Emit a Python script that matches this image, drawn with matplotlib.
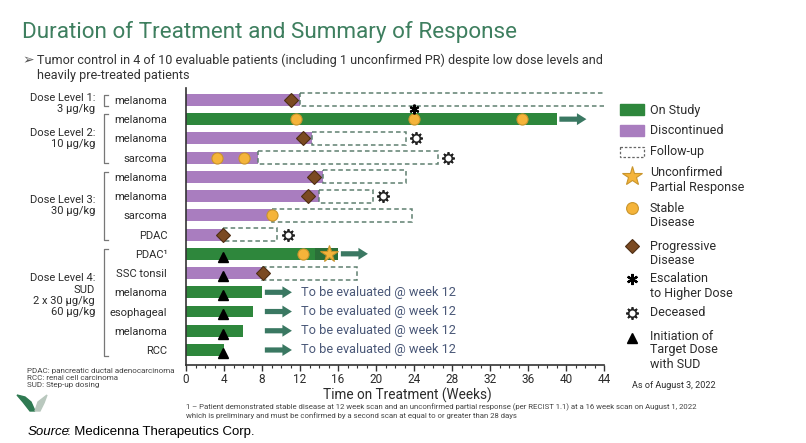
import numpy as np
import matplotlib.pyplot as plt
from matplotlib.patches import Rectangle, Polygon

# Patient rows, top to bottom
categories = ['melanoma', 'melanoma', 'melanoma', 'sarcoma', 'melanoma', 'melanoma',
              'sarcoma', 'PDAC', 'PDAC¹', 'SSC tonsil', 'melanoma', 'esophageal',
              'melanoma', 'RCC']
on_study = [False, True, False, False, False, False, False, False, True, False,
            True, True, True, True]
treat_weeks = [12, 39, 13.3, 7.6, 14.4, 14, 9, 3.9, 16, 8, 8, 7, 6, 4]
followup_end = [44.2, None, 23.2, 26.5, 23.2, 19.7, 23.8, 9.6, None, 18,
                None, None, None, None]

# response markers: (row, week)
stable_disease = [(1, 11.6), (1, 24), (1, 35.4), (3, 3.3), (3, 6.1), (6, 9), (8, 12.3)]
progressive = [(0, 11), (2, 12.3), (4, 13.5), (5, 12.8), (7, 3.9), (9, 8.1)]
unconfirmed_pr = [(8, 15)]
escalation = [(1, 24)]
deceased = [(2, 24.2), (3, 27.6), (5, 20.7), (7, 10.7)]
sud_start = [(8, 3.9), (9, 3.9), (10, 3.9), (11, 3.9), (12, 3.9), (13, 3.9)]
pending_rows = [10, 11, 12, 13]

dose_groups = [('Dose Level 1:\n3 µg/kg', 0, 0),
               ('Dose Level 2:\n10 µg/kg', 1, 3),
               ('Dose Level 3:\n30 µg/kg', 4, 7),
               ('Dose Level 4:\nSUD\n2 x 30 µg/kg\n60 µg/kg', 8, 13)]

GREEN = '#2e873c'
PURPLE = '#a97dbf'
DASH = '#5f8070'
ARROW = '#3a7862'
GOLD = '#f5b43a'
GOLD_EDGE = '#c9952c'
BROWN = '#7b4a22'
TEXT = '#2b2b2b'
FONT = ['Roboto', 'DejaVu Sans']

plt.rcParams['font.family'] = FONT

W, H = 806, 443
fig = plt.figure(figsize=(W / 100, H / 100), dpi=100)
fig.patch.set_facecolor('white')

ax = fig.add_axes([186 / W, 1 - 365 / H, 418 / W, 277 / H])
rows = np.arange(len(categories))
ax.set_xlim(0, 44)
ax.set_ylim(13.78, -0.62)

colors = [GREEN if s else PURPLE for s in on_study]
ax.barh(rows, treat_weeks, height=0.62, color=colors, zorder=2)

# darker band behind the unconfirmed PR star
ax.barh([8], [2.4], left=13.6, height=0.62, color='#2a6f38', zorder=2)

# follow-up boxes
fu_rows = [r for r in rows if followup_end[r] is not None]
fu_left = [treat_weeks[r] for r in fu_rows]
fu_width = [followup_end[r] - treat_weeks[r] for r in fu_rows]
ax.barh(fu_rows, fu_width, left=fu_left, height=0.68, fill=False,
        edgecolor=DASH, linestyle=(0, (3, 2)), linewidth=1.1, zorder=2)

# ongoing arrows
for r in rows:
    if on_study[r]:
        start = max(treat_weeks[r], 8) + 0.3
        ax.arrow(start, r, 2.85, 0, width=0.27, head_width=0.62, head_length=1.0,
                 length_includes_head=True, color=ARROW, zorder=3, lw=0)

for r in pending_rows:
    ax.text(12.1, r, 'To be evaluated @ week 12', fontsize=9.2, color='#4a5878',
            va='center', ha='left')

def pts(lst):
    return [p[1] for p in lst], [p[0] for p in lst]

x, y = pts(stable_disease)
ax.plot(x, y, 'o', ms=8, mfc=GOLD, mec=GOLD_EDGE, mew=0.8, ls='none', zorder=4)
x, y = pts(progressive)
ax.plot(x, y, 'D', ms=7, mfc=BROWN, mec='#4e2e14', mew=0.8, ls='none', zorder=4)
x, y = pts(unconfirmed_pr)
ax.plot(x, y, '*', ms=13, mfc=GOLD, mec=GOLD_EDGE, mew=0.8, ls='none', zorder=4)
x, y = pts(escalation)
ax.plot(x, [v - 0.55 for v in y], marker=(6, 2, 0), ms=7, color='black', mew=1.5,
        ls='none', zorder=4)
x, y = pts(deceased)
ax.plot(x, y, marker=(8, 2, 0), ms=9, color='#222', mew=1.3, ls='none', zorder=4)
ax.plot(x, y, 'o', ms=5.5, mfc='white', mec='#222', mew=1.2, ls='none', zorder=5)
x, y = pts(sud_start)
ax.plot(x, [v + 0.15 for v in y], '^', ms=6.5, color='black', ls='none', zorder=4)

ax.set_yticks(rows, categories)
ax.tick_params(axis='y', length=0, pad=13.5, labelsize=8, labelcolor=TEXT)
ax.set_xticks(range(0, 45, 4))
ax.set_xticks(np.arange(0, 45, 1), minor=True)
ax.tick_params(axis='x', which='major', length=4, width=1, color='#333',
               labelsize=8.5, labelcolor=TEXT, pad=2)
ax.tick_params(axis='x', which='minor', length=2.5, width=0.8, color='#333')
for s in ['top', 'right']:
    ax.spines[s].set_visible(False)
for s in ['left', 'bottom']:
    ax.spines[s].set_color('#333')
    ax.spines[s].set_linewidth(1.2)
ax.set_xlabel('Time on Treatment (Weeks)', fontsize=9.8, color=TEXT)
ax.xaxis.set_label_coords(0.529, -0.08)

# dose level brackets and labels
yt = ax.get_yaxis_transform()
for label, first, last in dose_groups:
    top, bot = first - 0.25, last + 0.3
    bx = (104 - 186) / 418
    bx2 = (108 - 186) / 418
    ax.plot([bx2, bx, bx, bx2], [top, top, bot, bot], color='#777', lw=0.9,
            transform=yt, clip_on=False)
    cy = (first + last) / 2 + (0.2 if first == last else 0)
    if last - first > 4:
        cy -= 0.35
    ax.text((95 - 186) / 418, cy, label, transform=yt, ha='right', va='center',
            fontsize=8, color=TEXT, linespacing=1.15)

# overlay in pixel coordinates for page text and legend
ov = fig.add_axes([0, 0, 1, 1], zorder=-1)
ov.set_xlim(0, W)
ov.set_ylim(H, 0)
ov.axis('off')

ov.text(22, 32, 'Duration of Treatment and Summary of Response', fontsize=16.2,
        color='#3e7f5f', va='center', ha='left')
ov.text(22, 60, '➢', fontsize=10, color='#555', va='center', ha='left',
        family=['DejaVu Sans'])
ov.text(37, 67.5, 'Tumor control in 4 of 10 evaluable patients (including 1 unconfirmed PR) '
        'despite low dose levels and\nheavily pre-treated patients', fontsize=9.1,
        color='#333', va='center', ha='left', linespacing=1.2)

# legend
ov.add_patch(Rectangle((620, 104), 24, 11, color=GREEN))
ov.add_patch(Rectangle((620, 125), 24, 11, color=PURPLE))
ov.add_patch(Rectangle((620, 147), 24, 10, fill=False, ec='#666', ls=(0, (2, 1.5)), lw=0.9))
ov.plot(632, 176, '*', ms=15, mfc=GOLD, mec=GOLD_EDGE, mew=0.8)
ov.plot(632, 208, 'o', ms=8.5, mfc=GOLD, mec=GOLD_EDGE, mew=0.8)
ov.plot(632, 246, 'D', ms=7.5, mfc=BROWN, mec='#4e2e14', mew=0.8)
ov.plot(632, 279, marker=(6, 2, 0), ms=8, color='black', mew=1.6)
ov.plot(632, 313, marker=(8, 2, 0), ms=9, color='#222', mew=1.3)
ov.plot(632, 313, 'o', ms=5.5, mfc='white', mec='#222', mew=1.2)
ov.plot(632, 338, '^', ms=7, color='black')

leg_items = [('On Study', 110), ('Discontinued', 131), ('Follow-up', 152),
             ('Unconfirmed\nPartial Response', 180), ('Stable\nDisease', 215),
             ('Progressive\nDisease', 253), ('Escalation\nto Higher Dose', 286),
             ('Deceased', 313), ('Initiation of\nTarget Dose\nwith SUD', 350)]
for txt, yy in leg_items:
    ov.text(650, yy, txt, fontsize=9, color=TEXT, va='center', ha='left',
            linespacing=1.1)

ov.text(632, 385, 'As of August 3, 2022', fontsize=6.5, color=TEXT, va='center')

ov.text(27, 378, 'PDAC: pancreatic ductal adenocarcinoma\nRCC: renal cell carcinoma\n'
        'SUD: Step-up dosing', fontsize=5.8, color='#444', va='center', linespacing=1.2)
ov.text(186, 411, '1 – Patient demonstrated stable disease at 12 week scan and an unconfirmed '
        'partial response (per RECIST 1.1) at a 16 week scan on August 1, 2022\n'
        'which is preliminary and must be confirmed by a second scan at equal to or '
        'greater than 28 days', fontsize=5.6, color='#444', va='center', linespacing=1.2)

# logo
ov.add_patch(Polygon([(17, 395), (25, 397), (31, 402), (35, 411), (30, 411), (23, 402)],
                     color='#2f7a52'))
ov.add_patch(Polygon([(35, 411), (38, 402), (47, 395), (44, 403), (40, 411)],
                     color='#b9c8be'))

src = ov.text(28, 432, 'Source', fontsize=9.5, style='italic', color='black',
              va='center', family=['Liberation Sans'])
ov.annotate(': Medicenna Therapeutics Corp.', xy=(1, 0.5), xycoords=src,
            xytext=(-2, 0), textcoords='offset points', va='center',
            ha='left', fontsize=9.5, color='black', family=['Liberation Sans'])

fig.savefig('out.png', dpi=100)
